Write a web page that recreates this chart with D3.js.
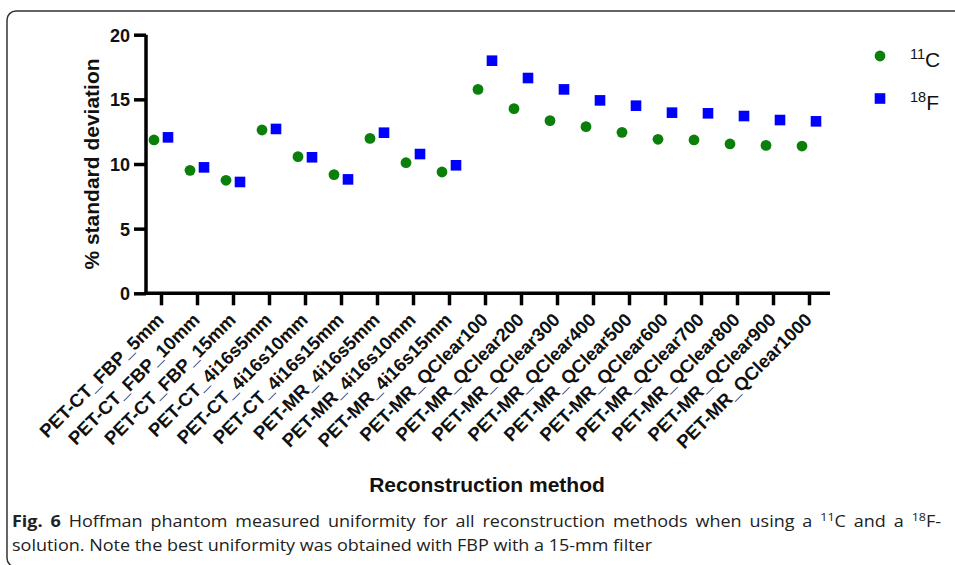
<!DOCTYPE html>
<html>
<head>
<meta charset="utf-8">
<script src="https://cdn.jsdelivr.net/npm/d3@7"></script>
<style>
  body { margin: 0; background: #fff; }
  svg { display: block; }
</style>
</head>
<body>
<svg id="chart" width="955" height="565"></svg>
<script>
// reconstruction methods, one tick each
const methods = [
  "PET-CT_FBP_5mm", "PET-CT_FBP_10mm", "PET-CT_FBP_15mm",
  "PET-CT_4i16s5mm", "PET-CT_4i16s10mm", "PET-CT_4i16s15mm",
  "PET-MR_4i16s5mm", "PET-MR_4i16s10mm", "PET-MR_4i16s15mm",
  "PET-MR_QClear100", "PET-MR_QClear200", "PET-MR_QClear300",
  "PET-MR_QClear400", "PET-MR_QClear500", "PET-MR_QClear600",
  "PET-MR_QClear700", "PET-MR_QClear800", "PET-MR_QClear900",
  "PET-MR_QClear1000"
];

// % standard deviation
const c11Values = [11.86, 9.51, 8.74, 12.63, 10.57, 9.18, 11.98, 10.10, 9.38,
  15.77, 14.28, 13.35, 12.89, 12.45, 11.91, 11.86, 11.55, 11.44, 11.39];
const f18Values = [12.06, 9.74, 8.61, 12.71, 10.52, 8.81, 12.42, 10.77, 9.90,
  17.99, 16.65, 15.77, 14.92, 14.51, 13.97, 13.92, 13.71, 13.40, 13.30];

const yTicks = [0, 5, 10, 15, 20];

const svg = d3.select("#chart");

// frame round the figure
svg.append("rect")
  .attr("x", 7).attr("y", 11)
  .attr("width", 1000).attr("height", 556)
  .attr("rx", 9)
  .attr("fill", "none")
  .attr("stroke", "#333")
  .attr("stroke-width", 1.5);

const x = d3.scalePoint().domain(methods).range([143, 827]).padding(0.5);
const y = d3.scaleLinear().domain([0, 20]).range([293.3, 34.7]);

const axisColor = "#000";
const axisWidth = 3.5;

// y axis
const gy = svg.append("g")
  .attr("transform", "translate(146,0)")
  .call(d3.axisLeft(y).tickValues(yTicks).tickSize(12).tickPadding(4));
gy.select(".domain").remove();
gy.append("line")
  .attr("x1", 0).attr("x2", 0)
  .attr("y1", y(0) + axisWidth / 2).attr("y2", y(20))
  .attr("stroke", axisColor).attr("stroke-width", axisWidth);
gy.selectAll(".tick line").attr("stroke", axisColor).attr("stroke-width", axisWidth);
gy.selectAll(".tick text")
  .attr("font-family", "Liberation Sans, Arial, sans-serif")
  .attr("font-weight", "bold")
  .attr("font-size", 18)
  .attr("fill", "#111")
  .attr("dy", "0.36em");

// x axis
const gx = svg.append("g")
  .attr("transform", `translate(0,${y(0)})`)
  .call(d3.axisBottom(x).tickSize(12).tickFormat(""));
gx.select(".domain").remove();
gx.append("line")
  .attr("x1", 146 - axisWidth / 2).attr("x2", x.range()[1] + 3)
  .attr("y1", 0).attr("y2", 0)
  .attr("stroke", axisColor).attr("stroke-width", axisWidth);
gx.selectAll(".tick line").attr("stroke", axisColor).attr("stroke-width", axisWidth);

// slanted method labels
svg.append("g").selectAll("text")
  .data(methods)
  .join("text")
  .attr("transform", d => `translate(${x(d) + 4},321) rotate(-45)`)
  .attr("text-anchor", "end")
  .attr("font-family", "Liberation Sans, Arial, sans-serif")
  .attr("font-weight", "bold")
  .attr("font-size", 18.5)
  .attr("fill", "#111")
  .text(d => d);

// axis titles
svg.append("text")
  .attr("transform", `translate(99,${(y(0) + y(20)) / 2}) rotate(-90)`)
  .attr("text-anchor", "middle")
  .attr("font-family", "Liberation Sans, Arial, sans-serif")
  .attr("font-weight", "bold")
  .attr("font-size", 21)
  .attr("fill", "#111")
  .text("% standard deviation");

svg.append("text")
  .attr("x", 487).attr("y", 492)
  .attr("text-anchor", "middle")
  .attr("font-family", "Liberation Sans, Arial, sans-serif")
  .attr("font-weight", "bold")
  .attr("font-size", 21)
  .attr("fill", "#111")
  .text("Reconstruction method");

// points
const green = "#0a800a", blue = "#0000ff";

svg.append("g").selectAll("circle")
  .data(c11Values)
  .join("circle")
  .attr("cx", (d, i) => x(methods[i]) - 7)
  .attr("cy", d => y(d))
  .attr("r", 5.4)
  .attr("fill", green);

const sq = 10.6;
svg.append("g").selectAll("rect")
  .data(f18Values)
  .join("rect")
  .attr("x", (d, i) => x(methods[i]) + 7 - sq / 2)
  .attr("y", d => y(d) - sq / 2)
  .attr("width", sq).attr("height", sq)
  .attr("fill", blue);

// legend
const legend = svg.append("g").attr("font-family", "Liberation Sans, Arial, sans-serif").attr("fill", "#111");
legend.append("circle").attr("cx", 880).attr("cy", 56).attr("r", 5.4).attr("fill", green);
legend.append("rect").attr("x", 880 - sq / 2).attr("y", 98.5 - sq / 2)
  .attr("width", sq).attr("height", sq).attr("fill", blue);

const legendItems = [["11", "C", 66.5], ["18", "F", 110]];
legendItems.forEach(([iso, el, base]) => {
  const t = legend.append("text").attr("x", 910).attr("y", base).attr("font-size", 21);
  t.append("tspan").attr("font-size", 14.5).attr("dy", -8).text(iso);
  t.append("tspan").attr("dy", 8).text(el);
});

// caption, justified first line, condensed face
const cap = svg.append("g")
  .attr("font-family", "Open Sans, Noto Sans, sans-serif")
  .attr("font-size", 16.5)
  .attr("fill", "#222");

const line1 = cap.append("text").attr("x", 0).attr("y", 527);
line1.append("tspan").attr("font-weight", "bold").text("Fig. 6");
line1.append("tspan").text(" Hoffman phantom measured uniformity for all reconstruction methods when using a ");
line1.append("tspan").attr("font-size", 11.5).attr("dy", -6).text("11");
line1.append("tspan").attr("dy", 6).text("C and a ");
line1.append("tspan").attr("font-size", 11.5).attr("dy", -6).text("18");
line1.append("tspan").attr("dy", 6).text("F-");

const line2 = cap.append("text").attr("x", 0).attr("y", 551)
  .text("solution. Note the best uniformity was obtained with FBP with a 15-mm filter");

const w1 = line1.node().getComputedTextLength();
const w2 = line2.node().getComputedTextLength();
const sx = 0.5 * (930 / w1 + 603 / w2);
line1.attr("word-spacing", (930 / sx - w1) / 16);
cap.attr("transform", `translate(12,0) scale(${sx},1)`);
</script>
</body>
</html>
